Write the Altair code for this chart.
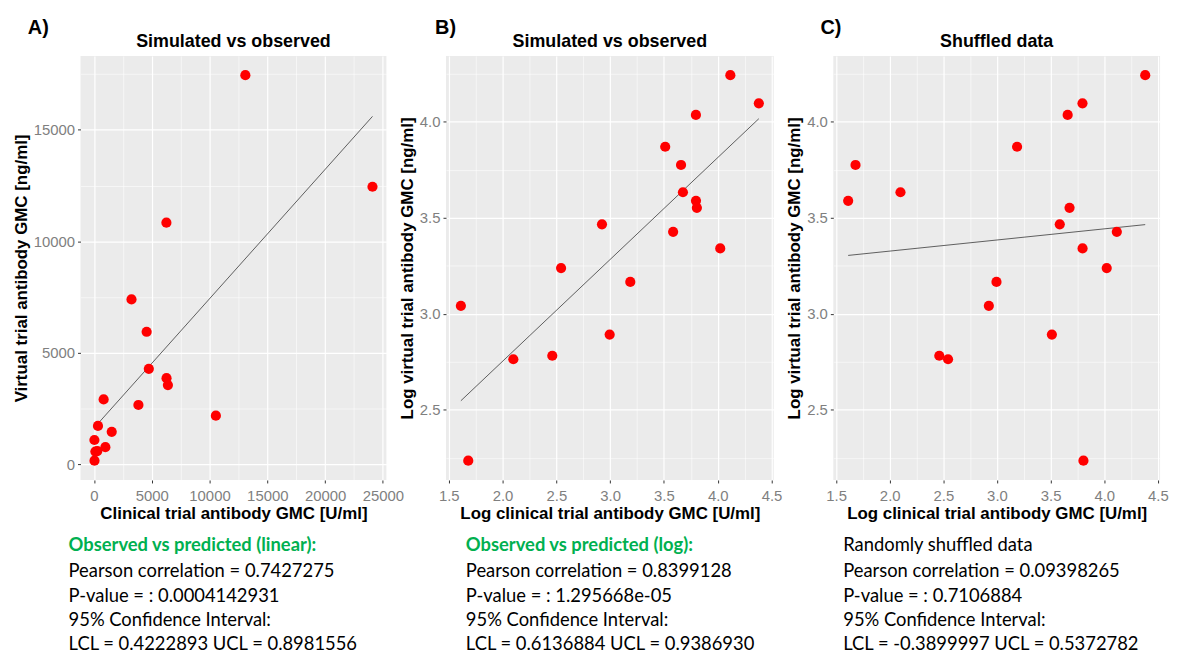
import altair as alt
import numpy as np
import pandas as pd

# ---- data ----
clinical_gmc = [13100, 24100, 6270, 3250, 4560, 4750, 6280, 6400, 840, 3850,
                10550, 350, 1540, 41, 126, 290, 990, 48]
virtual_gmc = [17450, 12450, 10840, 7400, 5950, 4290, 3870, 3560, 2920, 2670,
               2190, 1730, 1465, 1100, 580, 605, 780, 172]
virtual_gmc_shuffled = [2670, 17450, 12450, 780, 10840, 3560, 2190, 172, 1100, 2920,
                        1730, 580, 7400, 3870, 4290, 605, 1465, 5950]

panel_labels = ["A)", "B)", "C)"]
panel_titles = ["Simulated vs observed", "Simulated vs observed", "Shuffled data"]
x_titles = ["Clinical trial antibody GMC [U/ml]",
            "Log clinical trial antibody GMC [U/ml]",
            "Log clinical trial antibody GMC [U/ml]"]
y_titles = ["Virtual trial antibody GMC [ng/ml]",
            "Log virtual trial antibody GMC [ng/ml]",
            "Log virtual trial antibody GMC [ng/ml]"]
stat_headers = ["Observed vs predicted (linear):",
                "Observed vs predicted (log):",
                "Randomly shuffled data"]
stat_header_colors = ["#00B050", "#00B050", "#000000"]
stat_lines = [
    ["Pearson correlation = 0.7427275", "P-value = : 0.0004142931",
     "95% Confidence Interval:", "LCL = 0.4222893 UCL = 0.8981556"],
    ["Pearson correlation = 0.8399128", "P-value = : 1.295668e-05",
     "95% Confidence Interval:", "LCL = 0.6136884 UCL = 0.9386930"],
    ["Pearson correlation = 0.09398265", "P-value = : 0.7106884",
     "95% Confidence Interval:", "LCL = -0.3899997 UCL =  0.5372782"],
]

lin_x_major = [0, 5000, 10000, 15000, 20000, 25000]
lin_x_minor = [2500, 7500, 12500, 17500, 22500]
lin_y_major = [0, 5000, 10000, 15000]
lin_y_minor = [2500, 7500, 12500, 17500]
log_x_major = [1.5, 2.0, 2.5, 3.0, 3.5, 4.0, 4.5]
log_x_minor = [1.75, 2.25, 2.75, 3.25, 3.75, 4.25]
log_y_major = [2.5, 3.0, 3.5, 4.0]
log_y_minor = [2.25, 2.75, 3.25, 3.75, 4.25]

dfA = pd.DataFrame({"x": clinical_gmc, "y": virtual_gmc})
dfB = pd.DataFrame({"x": np.log10(clinical_gmc), "y": np.log10(virtual_gmc)})
dfC = pd.DataFrame({"x": np.log10(clinical_gmc), "y": np.log10(virtual_gmc_shuffled)})

AXIS_FONT = "Liberation Sans"
TEXT_FONT = "Lato"
HEIGHT = 427


def expand(vals):
    lo, hi = float(min(vals)), float(max(vals))
    d = (hi - lo) * 0.05
    return [lo - d, hi + d]


def make_axis(title, major, minor, fmt, title_pad, label_pad):
    test = "indexof([" + ",".join(repr(float(v)) for v in major) + "], datum.value) >= 0"
    return alt.Axis(
        title=title,
        values=sorted(major + minor),
        format=fmt,
        labelExpr=f"({test}) ? datum.label : ''",
        labelOverlap=False,
        labelFlush=False,
        labelPadding=label_pad,
        gridWidth={"condition": {"test": test, "value": 1.2}, "value": 0.55},
        tickOpacity={"condition": {"test": test, "value": 1}, "value": 0},
        titlePadding=title_pad,
    )


def text_layer(s, x, y, size, weight="normal", color="black", align="left", font=TEXT_FONT):
    return alt.Chart(pd.DataFrame({"t": [s]})).mark_text(
        font=font, fontSize=size, fontWeight=weight, align=align,
        baseline="middle", color=color).encode(
        x=alt.value(x), y=alt.value(y), text="t:N")


def panel(df, i, xmaj, xmin, ymaj, ymin, fmt, width, lab_dx, txt_dx):
    xdom = expand(df["x"])
    ydom = expand(df["y"])
    x = alt.X("x:Q", scale=alt.Scale(domain=xdom, nice=False, zero=False),
              axis=make_axis(x_titles[i], xmaj, xmin, fmt, 2, 6))
    y = alt.Y("y:Q", scale=alt.Scale(domain=ydom, nice=False, zero=False),
              axis=make_axis(y_titles[i], ymaj, ymin, fmt, 3, 3))
    base = alt.Chart(df)
    pts = base.mark_circle(size=105, color="#FF0000", opacity=1).encode(x=x, y=y)
    line = base.transform_regression("x", "y").mark_line(
        color="#3a3a3a", strokeWidth=0.8).encode(x=x, y=y)

    layers = [line, pts]
    layers.append(text_layer(panel_labels[i], lab_dx, -28, 20, "bold", font=AXIS_FONT))
    layers.append(text_layer(panel_titles[i], width / 2, -14, 18, "bold",
                             align="center", font=AXIS_FONT))
    layers.append(text_layer(stat_headers[i], txt_dx, 493, 18.5,
                             "bold" if i < 2 else "normal", stat_header_colors[i]))
    for k, s in enumerate(stat_lines[i]):
        layers.append(text_layer(s, txt_dx, 519 + 24.5 * k, 18.5))
    return alt.layer(*layers).properties(width=width, height=HEIGHT)


pA = panel(dfA, 0, lin_x_major, lin_x_minor, lin_y_major, lin_y_minor, "d", 308, -53, -12)
pB = panel(dfB, 1, log_x_major, log_x_minor, log_y_major, log_y_minor, ".1f", 330, -11, 20)
pC = panel(dfC, 2, log_x_major, log_x_minor, log_y_major, log_y_minor, ".1f", 329, -13, 10)

chart = alt.hconcat(pA, pB, pC, spacing=60, bounds="flush").properties(
    padding={"left": 4, "top": 8, "right": 0, "bottom": 0},
    background="white",
).configure_view(
    fill="#EBEBEB", stroke=None
).configure_axis(
    domain=False, tickColor="#333333", tickSize=3, tickWidth=1,
    labelColor="#7f7f7f", labelFontSize=15, labelFont=AXIS_FONT,
    titleFont=AXIS_FONT, titleFontSize=17, titleFontWeight="bold", titleColor="black",
    gridColor="white",
)

chart.save("out.html", embed_options={"renderer": "svg", "actions": False})
